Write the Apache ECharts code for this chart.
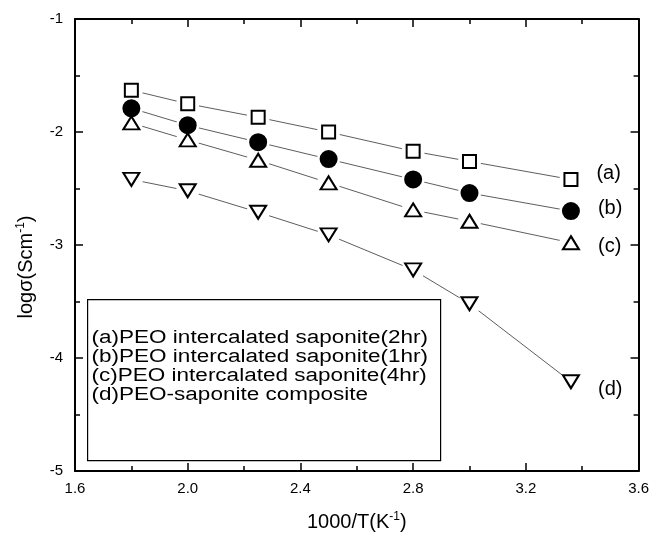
<!DOCTYPE html>
<html>
<head>
<meta charset="utf-8">
<title>logσ vs 1000/T</title>
<style>
  html, body { margin: 0; padding: 0; background: #fff; }
  #chart { width: 652px; height: 538px; }
</style>
</head>
<body>
<div id="chart"></div>
<script src="https://cdn.jsdelivr.net/npm/echarts@6/dist/echarts.min.js"></script>
<script>
  // 1000/T values (K^-1)
  var invT = [1.8, 2.0, 2.25, 2.5, 2.8, 3.0, 3.36];
  // log conductivity for each sample
  var sapo2hr = [-1.63, -1.75, -1.87, -2.00, -2.17, -2.26, -2.42];
  var sapo1hr = [-1.79, -1.94, -2.09, -2.24, -2.42, -2.54, -2.70];
  var sapo4hr = [-1.92, -2.07, -2.25, -2.45, -2.69, -2.79, -2.98];
  var composite = [-2.42, -2.52, -2.71, -2.91, -3.22, -3.52, -4.21];

  var seriesNames = [
    '(a)PEO intercalated saponite(2hr)',
    '(b)PEO intercalated saponite(1hr)',
    '(c)PEO intercalated saponite(4hr)',
    '(d)PEO-saponite composite'
  ];
  var endLabels = ['(a)', '(b)', '(c)', '(d)'];
  var allData = [sapo2hr, sapo1hr, sapo4hr, composite];

  var FONT = '"Liberation Sans", Arial, Helvetica, sans-serif';

  // marker look per series
  var markers = [
    {symbol: 'rect', size: [13, 13], rotate: 0, fill: '#fff', dy: -6},
    {symbol: 'circle', size: 16, rotate: 0, fill: '#000', dy: -3},
    {symbol: 'triangle', size: [16, 13], rotate: 0, fill: '#fff', dy: 4},
    {symbol: 'triangle', size: [16, 13], rotate: 180, fill: '#fff', dy: 8}
  ];

  function pairs(ys) {
    return invT.map(function (x, i) { return [x, ys[i]]; });
  }

  var series = [];
  allData.forEach(function (ys, k) {
    // thin connecting line
    series.push({
      type: 'line',
      data: pairs(ys),
      symbol: 'none',
      silent: true,
      z: 1,
      lineStyle: {color: '#333', width: 0.8}
    });
    // white halo so the line stops short of each marker
    series.push({
      type: 'scatter',
      data: pairs(ys),
      symbol: 'circle',
      symbolSize: 23,
      silent: true,
      z: 2,
      itemStyle: {color: '#fff', opacity: 1}
    });
  });
  allData.forEach(function (ys, k) {
    var m = markers[k];
    var last = ys.length - 1;
    series.push({
      type: 'scatter',
      name: seriesNames[k],
      data: pairs(ys),
      symbol: m.symbol,
      symbolSize: m.size,
      symbolRotate: m.rotate,
      z: 3,
      itemStyle: {color: m.fill, borderColor: '#000', borderWidth: 2, opacity: 1},
      label: {
        show: true,
        position: 'right',
        distance: 18,
        offset: [0, m.dy],
        color: '#000',
        fontFamily: FONT,
        fontSize: 20,
        formatter: function (p) { return p.dataIndex === last ? endLabels[k] : ''; }
      }
    });
  });

  var tickStyle = {color: '#000', width: 1.5};
  var baseX = {
    type: 'value', min: 1.6, max: 3.6, interval: 0.4,
    axisLine: {show: true, onZero: false, lineStyle: {color: '#000', width: 2}},
    axisTick: {show: true, inside: true, length: 8, lineStyle: tickStyle},
    minorTick: {show: true, splitNumber: 2, length: 5, lineStyle: tickStyle},
    splitLine: {show: false}
  };
  var baseY = {
    type: 'value', min: -5, max: -1, interval: 1,
    axisLine: {show: true, onZero: false, lineStyle: {color: '#000', width: 2}},
    axisTick: {show: true, inside: true, length: 8, lineStyle: tickStyle},
    minorTick: {show: true, splitNumber: 2, length: 5, lineStyle: tickStyle},
    splitLine: {show: false}
  };
  var supStyle = {fontSize: 12, fontFamily: FONT, color: '#000', verticalAlign: 'top', padding: [0, 0, 10, 0]};

  var chart = echarts.init(document.getElementById('chart'));
  chart.setOption({
    animation: false,
    backgroundColor: '#fff',
    grid: {left: 75, top: 19, right: 13, bottom: 67, containLabel: false},
    xAxis: [
      Object.assign({}, baseX, {
        position: 'bottom',
        name: '1000/T(K{sup|-1})',
        nameLocation: 'middle',
        nameGap: 40,
        nameTextStyle: {color: '#000', fontFamily: FONT, fontSize: 20, rich: {sup: supStyle}},
        axisLabel: {
          color: '#000', fontFamily: FONT, fontSize: 15, margin: 10,
          formatter: function (v) { return v.toFixed(1); }
        }
      }),
      Object.assign({}, baseX, {position: 'top', axisLabel: {show: false}})
    ],
    yAxis: [
      Object.assign({}, baseY, {
        position: 'left',
        name: 'logσ(Scm{sup|-1})',
        nameLocation: 'middle',
        nameGap: 38,
        nameTextStyle: {
          color: '#000', fontFamily: FONT, fontSize: 20,
          padding: [0, 44, 0, 0],
          rich: {sup: supStyle}
        },
        axisLabel: {
          color: '#000', fontFamily: FONT, fontSize: 15, margin: 12,
          formatter: function (v) { return String(Math.round(v)); }
        }
      }),
      Object.assign({}, baseY, {position: 'right', axisLabel: {show: false}})
    ],
    graphic: [{
      type: 'group',
      left: 87,
      top: 299,
      children: [{
        type: 'rect',
        shape: {x: 0, y: 0, width: 353, height: 161},
        style: {fill: '#fff', stroke: '#000', lineWidth: 1.2}
      }].concat(seriesNames.map(function (name, i) {
        return {
          type: 'text',
          x: 4,
          y: 38 + i * 19.3,
          scaleX: 1.25,
          style: {
            text: name, fill: '#000', fontFamily: FONT, fontSize: 18,
            verticalAlign: 'middle'
          }
        };
      }))
    }],
    series: series
  });
</script>
</body>
</html>
